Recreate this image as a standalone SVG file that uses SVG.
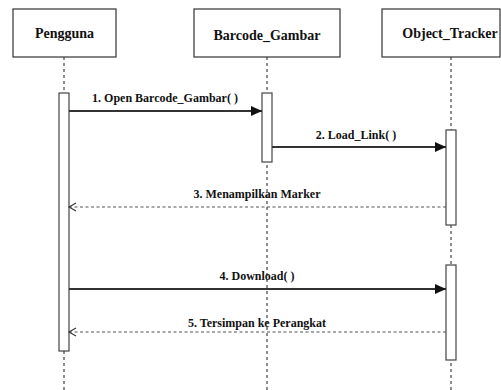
<svg xmlns="http://www.w3.org/2000/svg" width="501" height="390" viewBox="0 0 501 390">
<defs>
<style>
.box{fill:#fff;stroke:#333;stroke-width:1.2}
.act{fill:#fff;stroke:#444;stroke-width:1.2}
.life{stroke:#444;stroke-width:1.2;stroke-dasharray:3,3;fill:none}
.t{font-family:'Liberation Serif','Times New Roman','DejaVu Serif',serif;font-weight:bold;font-size:14px;fill:#111;text-anchor:middle}
.m{font-family:'Liberation Serif','Times New Roman','DejaVu Serif',serif;font-weight:bold;font-size:12px;fill:#111;text-anchor:middle}
.sync{stroke:#333;stroke-width:1.8;fill:none}
.ret{stroke:#555;stroke-width:1.1;stroke-dasharray:3,2.5;fill:none}
</style>
<marker id="fill" markerWidth="12" markerHeight="10" refX="11" refY="5" orient="auto" markerUnits="userSpaceOnUse">
<path d="M0,0 L11,5 L0,10 Z" fill="#111"/>
</marker>
<marker id="open" markerWidth="10" markerHeight="10" refX="8" refY="5" orient="auto" markerUnits="userSpaceOnUse">
<path d="M1,1 L8,5 L1,9" fill="none" stroke="#333" stroke-width="1.1"/>
</marker>
</defs>
<rect width="501" height="390" fill="#fff"/>
<g id="lifelines">
<line class="life" x1="64" y1="57" x2="64" y2="390"/>
<line class="life" x1="267" y1="57" x2="267" y2="390"/>
<line class="life" x1="451" y1="57" x2="451" y2="390"/>
</g>
<g id="Pengguna">
<rect class="box" x="13" y="9" width="103" height="48"/>
<text class="t" x="64.5" y="38" font-family="Liberation Serif, serif">Pengguna</text>
<rect class="act" x="59" y="93" width="10" height="258"/>
</g>
<g id="Barcode_Gambar">
<rect class="box" x="194" y="9" width="146" height="48"/>
<text class="t" x="267" y="40" font-family="Liberation Serif, serif">Barcode_Gambar</text>
<rect class="act" x="262" y="93" width="10" height="69"/>
</g>
<g id="Object_Tracker">
<rect class="box" x="382" y="9" width="118" height="48"/>
<text class="t" x="450" y="38" font-family="Liberation Serif, serif">Object_Tracker</text>
<rect class="act" x="446" y="130" width="10" height="95"/>
<rect class="act" x="446" y="265" width="10" height="95"/>
</g>
<g id="connectors">
<line class="sync" x1="69" y1="111" x2="262" y2="111" marker-end="url(#fill)"/>
<text class="m" x="165" y="102">1. Open Barcode_Gambar( )</text>
<line class="sync" x1="272" y1="147" x2="446" y2="147" marker-end="url(#fill)"/>
<text class="m" x="356" y="139">2. Load_Link( )</text>
<line class="ret" x1="446" y1="207" x2="69" y2="207" marker-end="url(#open)"/>
<text class="m" x="257" y="198">3. Menampilkan Marker</text>
<line class="sync" x1="69" y1="289" x2="446" y2="289" marker-end="url(#fill)"/>
<text class="m" x="257" y="280">4. Download( )</text>
<line class="ret" x1="446" y1="332" x2="69" y2="332" marker-end="url(#open)"/>
<text class="m" x="257" y="327">5. Tersimpan ke Perangkat</text>
</g>
</svg>
